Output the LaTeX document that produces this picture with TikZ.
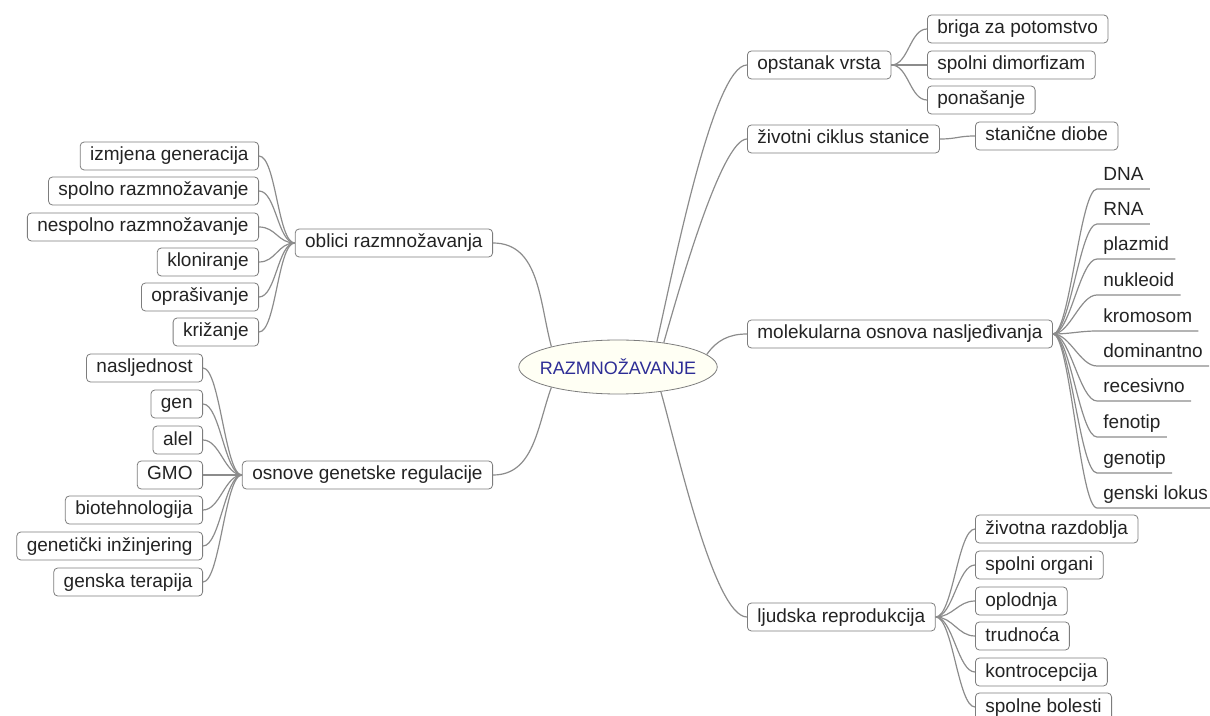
\documentclass[tikz,border=0pt]{standalone}
\usepackage{fontspec}
\setmainfont{Liberation Sans}
\usetikzlibrary{shapes.geometric}
\definecolor{linegray}{RGB}{140,140,140}
\definecolor{boxgray}{RGB}{125,125,125}
\definecolor{txtdark}{RGB}{35,35,35}
\definecolor{rootblue}{RGB}{45,45,150}
\definecolor{rootfill}{RGB}{255,255,244}

\begin{document}
\begin{tikzpicture}[x=0.5pt,y=-0.5pt]
		\tikzset{topic/.style = {shape=rectangle, rounded corners=2pt, draw=boxgray, fill=white, text=txtdark, inner xsep=5pt, inner ysep=2.5pt, text height=7pt, text depth=2pt, font=\fontsize{9.5}{11}\selectfont},
			ltopic/.style = {topic, anchor=east},
			rtopic/.style = {topic, anchor=west},
			uleaf/.style = {anchor=south west, text=txtdark, inner xsep=3pt, inner ysep=2pt, text height=7pt, text depth=2pt, font=\fontsize{9.5}{11}\selectfont},
			root/.style = {shape=ellipse, draw=boxgray, fill=rootfill, text=rootblue, inner xsep=-4pt, inner ysep=0pt, minimum height=27pt, font=\fontsize{9}{11}\selectfont},
			link/.style = {draw=linegray, semithick},
			rlink/.style = {to path={.. controls +(17,0) and +(-17,0) .. (\tikztotarget)}},
			llink/.style = {to path={.. controls +(-17,0) and +(17,0) .. (\tikztotarget)}}}
		\useasboundingbox (0,0) rectangle (1210,716);
		
		\node[root] (RAZ) at (618,367) {RAZMNOŽAVANJE};
		
		% left main topics
		\node[ltopic] (OBL) at (493,243) {oblici razmnožavanja};
		\node[ltopic] (OSN) at (493,475) {osnove genetske regulacije};
		
		\node[ltopic] (IZM) at (259,156) {izmjena generacija};
		\node[ltopic] (SPR) at (259,191) {spolno razmnožavanje};
		\node[ltopic] (NSR) at (259,227) {nespolno razmnožavanje};
		\node[ltopic] (KLO) at (259,262) {kloniranje};
		\node[ltopic] (OPR) at (259,297) {oprašivanje};
		\node[ltopic] (KRI) at (259,332) {križanje};
		
		\node[ltopic] (NAS) at (203,368) {nasljednost};
		\node[ltopic] (GEN) at (203,404) {gen};
		\node[ltopic] (ALE) at (203,440) {alel};
		\node[ltopic] (GMO) at (203,475) {GMO};
		\node[ltopic] (BIO) at (203,510) {biotehnologija};
		\node[ltopic] (GIN) at (203,546) {genetički inžinjering};
		\node[ltopic] (GTE) at (203,582) {genska terapija};
		
		% right main topics
		\node[rtopic] (OPS) at (747,65) {opstanak vrsta};
		\node[rtopic] (ZCS) at (747,139) {životni ciklus stanice};
		\node[rtopic] (MOL) at (747,334) {molekularna osnova nasljeđivanja};
		\node[rtopic] (LJR) at (747,617) {ljudska reprodukcija};
		
		\node[rtopic] (BRI) at (927,29) {briga za potomstvo};
		\node[rtopic] (SDI) at (927,65) {spolni dimorfizam};
		\node[rtopic] (PON) at (927,100) {ponašanje};
		\node[rtopic] (STD) at (975,136) {stanične diobe};
		
		\node[uleaf] (DNA) at (1097,189) {DNA};
		\node[uleaf] (RNA) at (1097,224) {RNA};
		\node[uleaf] (PLA) at (1097,259) {plazmid};
		\node[uleaf] (NUK) at (1097,295) {nukleoid};
		\node[uleaf] (KRO) at (1097,331) {kromosom};
		\node[uleaf] (DOM) at (1097,366) {dominantno};
		\node[uleaf] (REC) at (1097,401) {recesivno};
		\node[uleaf] (FEN) at (1097,437) {fenotip};
		\node[uleaf] (GTP) at (1097,473) {genotip};
		\node[uleaf] (LOK) at (1097,508) {genski lokus};
		
		\node[rtopic] (ZRA) at (975,529) {životna razdoblja};
		\node[rtopic] (SOR) at (975,565) {spolni organi};
		\node[rtopic] (OPL) at (975,601) {oplodnja};
		\node[rtopic] (TRU) at (975,636) {trudnoća};
		\node[rtopic] (KON) at (975,672) {kontrocepcija};
		\node[rtopic] (SBO) at (975,707) {spolne bolesti};
		
		% connectors from the root
		\draw[link] (RAZ.163) to[out=105,in=0] (OBL.east);
		\draw[link] (RAZ.197) to[out=250,in=0] (OSN.east);
		\draw[link] (RAZ.33) to[out=77,in=180,out looseness=0.6,in looseness=0.3] (OPS.west);
		\draw[link] (RAZ.28) to[out=74,in=180,out looseness=0.6,in looseness=0.3] (ZCS.west);
		\draw[link] (RAZ.8) to[out=55,in=180] (MOL.west);
		\draw[link] (RAZ.330) to[out=-74,in=180,out looseness=0.6,in looseness=0.35] (LJR.west);
		
		% second level
		\foreach \leaf in {IZM,SPR,NSR,KLO,OPR,KRI}
			\draw[link] (OBL.west) to[llink] (\leaf.east);
		\foreach \leaf in {NAS,GEN,ALE,GMO,BIO,GIN,GTE}
			\draw[link] (OSN.west) to[llink] (\leaf.east);
		\foreach \leaf in {BRI,SDI,PON}
			\draw[link] (OPS.east) to[rlink] (\leaf.west);
		\draw[link] (ZCS.east) to[rlink] (STD.west);
		\foreach \leaf in {DNA,RNA,PLA,NUK,KRO,DOM,REC,FEN,GTP,LOK}
			\draw[link] (MOL.east) to[rlink] (\leaf.south west) -- (\leaf.south east);
		\foreach \leaf in {ZRA,SOR,OPL,TRU,KON,SBO}
			\draw[link] (LJR.east) to[rlink] (\leaf.west);
		
\end{tikzpicture}
\end{document}
